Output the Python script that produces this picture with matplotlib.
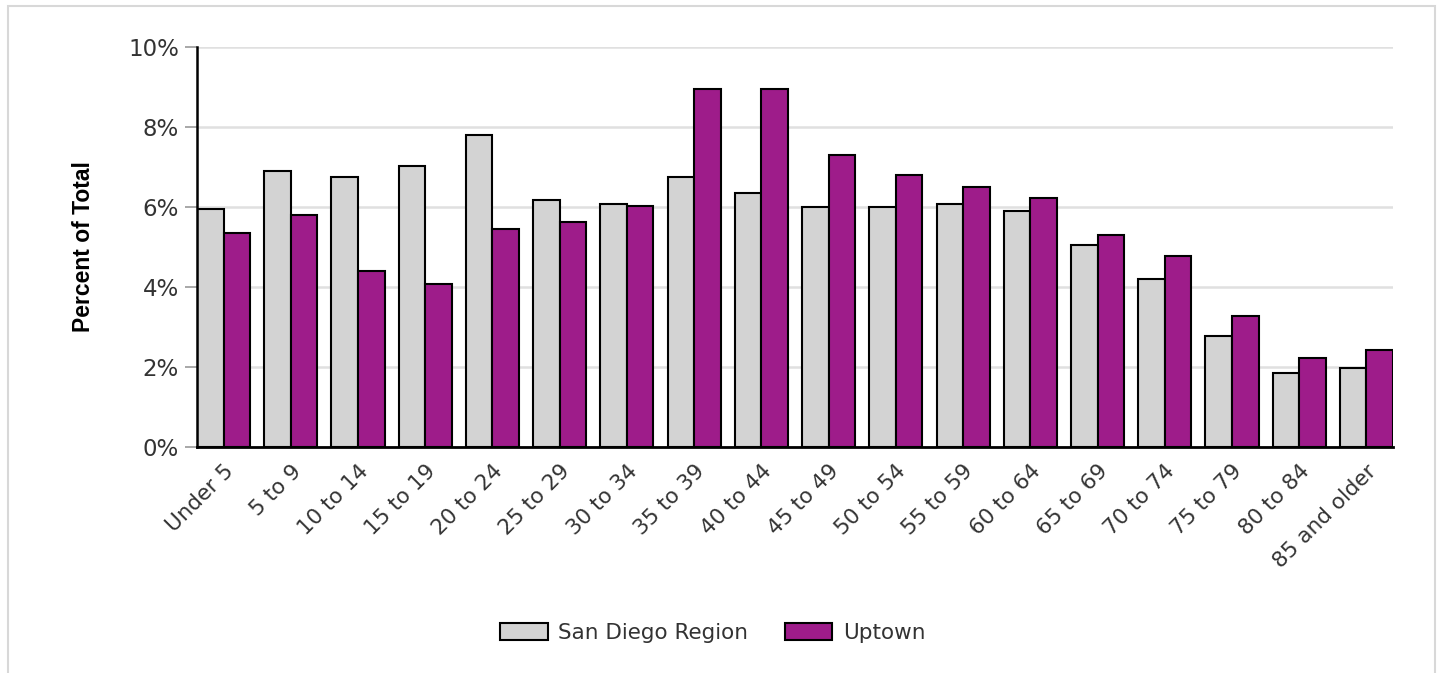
import matplotlib
matplotlib.use("Agg")
import matplotlib.pyplot as plt
import numpy as np
from matplotlib.patches import Rectangle
from matplotlib.ticker import FuncFormatter

# ── 数据 ──────────────────────────────────────────────────────────
age_groups = ["Under 5", "5 to 9", "10 to 14", "15 to 19", "20 to 24", "25 to 29",
              "30 to 34", "35 to 39", "40 to 44", "45 to 49", "50 to 54", "55 to 59",
              "60 to 64", "65 to 69", "70 to 74", "75 to 79", "80 to 84", "85 and older"]
san_diego = [5.94, 6.91, 6.76, 7.02, 7.80, 6.17, 6.07, 6.76, 6.36, 6.00, 6.00, 6.07,
             5.89, 5.04, 4.19, 2.78, 1.84, 1.97]
uptown = [5.36, 5.80, 4.41, 4.07, 5.45, 5.62, 6.02, 8.96, 8.96, 7.30, 6.81, 6.49,
          6.23, 5.30, 4.78, 3.28, 2.23, 2.43]

GRAY = "#d3d3d3"
PURPLE = "#9e1c8a"
TEXT = "#333333"

plt.rcParams["font.family"] = ["DejaVu Sans"]

fig = plt.figure(figsize=(14.41, 6.73), dpi=100)
ax = fig.add_axes([197 / 1441, 1 - 447 / 673, (1393 - 197) / 1441, 400 / 673])

x = np.arange(len(age_groups))
w = 0.395
ax.bar(x - w / 2, san_diego, width=w, color=GRAY, edgecolor="black", linewidth=1.5,
       label="San Diego Region", zorder=3)
ax.bar(x + w / 2, uptown, width=w, color=PURPLE, edgecolor="black", linewidth=1.5,
       label="Uptown", zorder=3)

ax.set_xlim(-w, len(age_groups) - 1 + w)
ax.set_ylim(0, 10)
ax.set_yticks(range(0, 11, 2))
ax.yaxis.set_major_formatter(FuncFormatter(lambda v, _: f"{v:.0f}%"))
ax.grid(axis="y", color="#e0e0e0", linewidth=1.8, zorder=0)

ax.set_xticks(x)
ax.set_xticklabels(age_groups, rotation=45, ha="right", rotation_mode="anchor",
                   fontsize=15.5, color=TEXT)
ax.tick_params(axis="x", length=0, pad=10)
ax.tick_params(axis="y", length=9, width=1.2, color="#999999", labelsize=16.5,
               labelcolor=TEXT, pad=4)

for side in ("top", "right"):
    ax.spines[side].set_visible(False)
ax.spines["left"].set_linewidth(1.8)
ax.spines["bottom"].set_linewidth(2)
ax.spines["left"].set_zorder(4)
ax.spines["bottom"].set_zorder(4)

ax.set_ylabel("Percent of Total", fontsize=16.5, fontweight="bold", color="black",
              family="Liberation Sans", labelpad=24)

fig.legend(loc="center", bbox_to_anchor=(713 / 1441, 1 - 633 / 673), ncol=2,
           frameon=False, fontsize=15.5, handlelength=2.2, handleheight=0.8,
           columnspacing=1.7, handletextpad=0.5, labelcolor=TEXT)

# 外框
fig.patches.append(Rectangle((8 / 1441, -0.05), (1435 - 8) / 1441, 1.05 - 6 / 673,
                             transform=fig.transFigure, fill=False,
                             edgecolor="#d8d8d8", linewidth=1.5))

fig.savefig("out.png", dpi=100, facecolor="white")
